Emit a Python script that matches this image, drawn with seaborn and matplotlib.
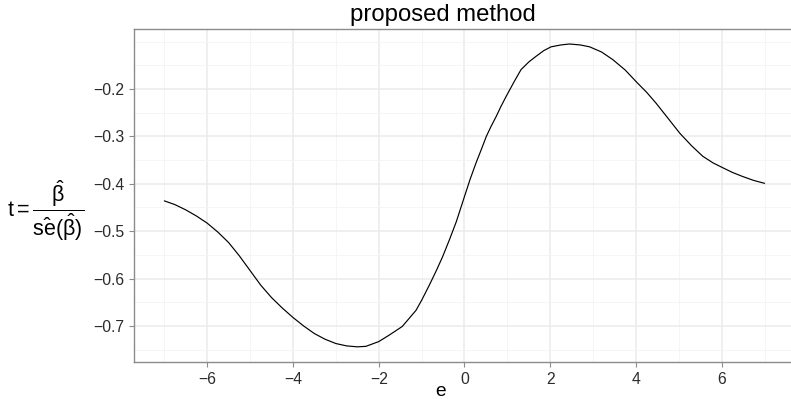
import numpy as np
import pandas as pd
import matplotlib
matplotlib.use("Agg")
import matplotlib.pyplot as plt
import seaborn as sns

# ---- data ----
e_vals = [-7.0, -6.75, -6.5, -6.25, -6.0, -5.75, -5.5, -5.25, -5.0, -4.75,
          -4.5, -4.25, -4.0, -3.75, -3.5, -3.25, -3.0, -2.75, -2.5, -2.3,
          -2.0, -1.75, -1.45, -1.13, -1.0, -0.82, -0.65, -0.51, -0.35, -0.19,
          0.0, 0.13, 0.27, 0.4, 0.51, 0.62, 0.74, 0.85, 0.97, 1.15, 1.32,
          1.5, 1.67, 1.85, 2.02, 2.25, 2.45, 2.7, 2.92, 3.2, 3.46, 3.75,
          4.01, 4.25, 4.47, 4.75, 5.02, 5.3, 5.56, 5.8, 6.0, 6.25, 6.5,
          6.75, 7.0]
t_vals = [-0.436, -0.444, -0.455, -0.468, -0.483, -0.502, -0.524, -0.552,
          -0.583, -0.614, -0.640, -0.662, -0.682, -0.700, -0.716, -0.728,
          -0.737, -0.742, -0.744, -0.743, -0.733, -0.719, -0.701, -0.667,
          -0.646, -0.614, -0.582, -0.554, -0.518, -0.480, -0.427, -0.391,
          -0.356, -0.326, -0.300, -0.279, -0.258, -0.237, -0.216, -0.186,
          -0.159, -0.143, -0.131, -0.119, -0.111, -0.107, -0.105, -0.107,
          -0.111, -0.122, -0.138, -0.160, -0.185, -0.207, -0.230, -0.262,
          -0.293, -0.320, -0.342, -0.356, -0.365, -0.376, -0.385, -0.393,
          -0.399]
x_ticks = [-6, -4, -2, 0, 2, 4, 6]
y_ticks = [-0.7, -0.6, -0.5, -0.4, -0.3, -0.2]
x_minor = [-7, -5, -3, -1, 1, 3, 5, 7]
y_minor = [-0.75, -0.65, -0.55, -0.45, -0.35, -0.25, -0.15, -0.1]
title_text = "proposed method"
x_label = "e"
y_label = r"$t=\dfrac{\hat{\beta}}{\hat{se}(\hat{\beta})}$"

df = pd.DataFrame({"e": e_vals, "t": t_vals})

sns.set_theme(style="white")
plt.rcParams["font.family"] = ["Liberation Sans", "DejaVu Sans"]
plt.rcParams["mathtext.fontset"] = "custom"
plt.rcParams["mathtext.rm"] = "Liberation Sans"
plt.rcParams["mathtext.it"] = "Liberation Sans"
plt.rcParams["mathtext.bf"] = "Liberation Sans:bold"
plt.rcParams["mathtext.sf"] = "Liberation Sans"
plt.rcParams["axes.unicode_minus"] = True

W, H = 791, 399
fig = plt.figure(figsize=(W / 100, H / 100), dpi=100)
left, right, top, bottom = 134.3, 794.6, 29.3, 362.0
ax = fig.add_axes([left / W, (H - bottom) / H, (right - left) / W, (bottom - top) / H])
ax.set_facecolor("white")

sns.lineplot(data=df, x="e", y="t", ax=ax, color="black", linewidth=0.85,
             estimator=None, sort=False)

ax.set_xlim(-7.7, 7.7)
ax.set_ylim(-0.776, -0.074)
ax.set_xticks(x_ticks)
ax.set_yticks(y_ticks)
ax.set_xticklabels([f"{v:d}".replace("-", "\u2212") for v in x_ticks])
ax.set_yticklabels([f"{v:.1f}".replace("-", "\u2212") for v in y_ticks])
ax.set_xticks(x_minor, minor=True)
ax.set_yticks(y_minor, minor=True)

ax.grid(True, which="major", color="#EBEBEB", linewidth=1.1)
ax.grid(True, which="minor", color="#F4F4F4", linewidth=0.6)
ax.set_axisbelow(True)

for s in ax.spines.values():
    s.set_visible(True)
    s.set_color("#8C8C8C")
    s.set_linewidth(1.0)

ax.tick_params(axis="both", which="major", length=3.4, width=0.8, color="#8C8C8C",
               labelsize=11.3, labelcolor="#2b2b2b", pad=3.5, bottom=True, left=True)
ax.tick_params(axis="both", which="minor", length=0, bottom=False, left=False)

ax.set_xlabel(x_label, fontsize=13.75, color="black")
ax.xaxis.label.set_va("baseline")
ax.xaxis.set_label_coords((441 - left) / (right - left), (bottom - 396) / (bottom - top))

ax.set_ylabel(y_label, fontsize=15.5, rotation=0, color="black")
ax.yaxis.label.set_ha("left")
ax.yaxis.label.set_va("center")
ax.yaxis.set_label_coords((7 - left) / (right - left), (bottom - 211) / (bottom - top))

ax.set_title(title_text, fontsize=17.2, color="black")
ax.title.set_va("baseline")
ax.title.set_position(((443 - left) / (right - left), 1 + (top - 25) / (bottom - top)))

fig.savefig("out.png", dpi=100)
